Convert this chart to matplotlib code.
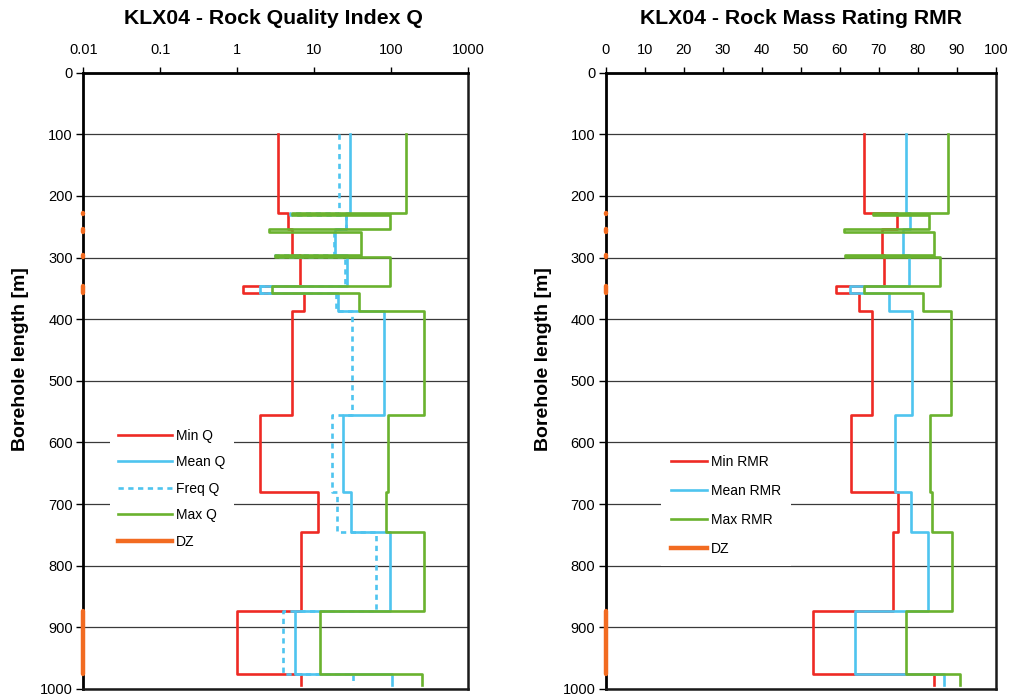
import numpy as np
import matplotlib
matplotlib.use("Agg")
import matplotlib.pyplot as plt
from matplotlib.ticker import FixedLocator, FixedFormatter, NullLocator

plt.rcParams['font.family'] = ['Liberation Sans', 'DejaVu Sans']

# ---- borehole intervals (m) ----
depth_bounds = [100, 228, 231, 254, 258, 296, 299, 346, 358, 386, 556, 680, 746, 874, 975, 994]

# ---- Q values per interval ----
q_min  = [3.4, 4.6, 4.6, 5.1, 5.1, 6.6, 6.6, 1.2, 7.3, 5.1, 2.0, 11.2, 6.8, 1.0, 6.8]
q_mean = [29.4, 25.8, 25.8, 18.7, 18.7, 27.1, 27.1, 2.0, 20.3, 82.0, 23.6, 30.2, 97.0, 5.6, 102.0]
q_freq = [21.3, 4.9, 25.8, 18.2, 18.2, 3.1, 25.2, 2.0, 19.3, 30.8, 16.9, 19.7, 63.8, 3.9, 32.4]
q_max  = [155.0, 5.1, 97.0, 2.6, 40.7, 3.1, 97.0, 2.8, 38.0, 271.0, 90.0, 87.0, 271.0, 12.0, 255.0]

# ---- RMR values per interval ----
rmr_min  = [66.1, 74.6, 74.6, 70.8, 70.8, 71.4, 71.4, 59.1, 64.9, 68.2, 62.9, 75.0, 73.6, 53.2, 84.0]
rmr_mean = [77.0, 78.0, 78.0, 76.3, 76.3, 77.8, 77.8, 62.5, 72.5, 78.5, 74.2, 78.3, 82.6, 63.9, 86.7]
rmr_max  = [87.8, 68.6, 82.9, 61.1, 84.0, 61.4, 85.7, 66.2, 81.3, 88.5, 83.2, 83.6, 88.7, 77.0, 90.8]

# ---- deformation zones (m) ----
dz_top = [227, 254, 296, 346, 874]
dz_bot = [230, 258, 299, 358, 975]

q_ticks = [0.01, 0.1, 1, 10, 100, 1000]
q_tick_labels = ['0.01', '0.1', '1', '10', '100', '1000']
rmr_ticks = list(range(0, 101, 10))
depth_ticks = list(range(0, 1001, 100))

RED = '#EE2A24'
BLUE = '#4EC4EF'
GREEN = '#6AB22E'
ORANGE = '#F26B21'
LW = 1.9


def step_profile(bounds, values):
    """Turn interval values into a vertical step line (x, depth)."""
    b = np.asarray(bounds, dtype=float)
    v = np.asarray(values, dtype=float)
    y = np.repeat(b, 2)[1:-1]
    x = np.repeat(v, 2)
    return x, y


def style_axes(ax):
    ax.set_ylim(1000, 0)
    ax.yaxis.set_major_locator(FixedLocator(depth_ticks))
    ax.yaxis.set_minor_locator(NullLocator())
    ax.xaxis.tick_top()
    ax.tick_params(axis='x', which='major', direction='out', length=4, width=1,
                   pad=7.5, labelsize=10.5, top=True, bottom=False)
    ax.tick_params(axis='x', which='minor', length=0)
    ax.tick_params(axis='y', direction='out', length=5, width=1, pad=2.5, labelsize=10.5)
    ax.yaxis.grid(True, color='#3a3a3a', lw=0.9)
    ax.set_axisbelow(True)
    for side in ('left', 'top'):
        ax.spines[side].set_linewidth(2.0)
        ax.spines[side].set_color('black')
    for side in ('right', 'bottom'):
        ax.spines[side].set_linewidth(1.8)
        ax.spines[side].set_color('#1a1a1a')


fig = plt.figure(figsize=(10.1, 6.97), dpi=100)
W, H = 1010, 697
top_px, bot_px = 72.7, 689.0
axQ = fig.add_axes([83.3 / W, 1 - bot_px / H, (468.0 - 83.3) / W, (bot_px - top_px) / H])
axR = fig.add_axes([605.7 / W, 1 - bot_px / H, (996.0 - 605.7) / W, (bot_px - top_px) / H])

# ---------------- Q panel ----------------
axQ.set_xscale('log')
axQ.set_xlim(0.01, 1000)
x, y = step_profile(depth_bounds, q_min)
axQ.plot(x, y, color=RED, lw=LW, label='Min Q', zorder=3)
x, y = step_profile(depth_bounds, q_mean)
axQ.plot(x, y, color=BLUE, lw=LW, label='Mean Q', zorder=3)
x, y = step_profile(depth_bounds, q_freq)
axQ.plot(x, y, color=BLUE, lw=LW, dashes=(2.0, 1.7), label='Freq Q', zorder=3)
x, y = step_profile(depth_bounds, q_max)
axQ.plot(x, y, color=GREEN, lw=LW, label='Max Q', zorder=3)
for t, b in zip(dz_top, dz_bot):
    axQ.plot([0.01, 0.01], [t, b], color=ORANGE, lw=3.2, solid_capstyle='round',
             clip_on=False, zorder=5)
axQ.plot([], [], color=ORANGE, lw=3.2, label='DZ')
axQ.xaxis.set_major_locator(FixedLocator(q_ticks))
axQ.xaxis.set_major_formatter(FixedFormatter(q_tick_labels))
axQ.xaxis.set_minor_locator(NullLocator())
style_axes(axQ)

legQ = axQ.legend(loc='center left', bbox_to_anchor=(0.0694, 0.325), fontsize=10,
                  frameon=True, fancybox=False, edgecolor='none', facecolor='white',
                  framealpha=1.0, handlelength=3.9, handletextpad=0.25,
                  labelspacing=0.9, borderpad=0.6, borderaxespad=0.0)
legQ.set_zorder(4)

# ---------------- RMR panel ----------------
axR.set_xlim(0, 100)
x, y = step_profile(depth_bounds, rmr_min)
axR.plot(x, y, color=RED, lw=LW, label='Min RMR', zorder=3)
x, y = step_profile(depth_bounds, rmr_mean)
axR.plot(x, y, color=BLUE, lw=LW, label='Mean RMR', zorder=3)
x, y = step_profile(depth_bounds, rmr_max)
axR.plot(x, y, color=GREEN, lw=LW, label='Max RMR', zorder=3)
for t, b in zip(dz_top, dz_bot):
    axR.plot([0, 0], [t, b], color=ORANGE, lw=3.2, solid_capstyle='round',
             clip_on=False, zorder=5)
axR.plot([], [], color=ORANGE, lw=3.2, label='DZ')
axR.xaxis.set_major_locator(FixedLocator(rmr_ticks))
axR.xaxis.set_minor_locator(NullLocator())
style_axes(axR)

legR = axR.legend(loc='center left', bbox_to_anchor=(0.1417, 0.2974), fontsize=10,
                  frameon=True, fancybox=False, edgecolor='none', facecolor='white',
                  framealpha=1.0, handlelength=2.6, handletextpad=0.3,
                  labelspacing=1.08, borderpad=0.7, borderaxespad=0.0)
legR.set_zorder(4)

# ---------------- titles and axis labels ----------------
fig.text(273.5 / W, 1 - 18 / H, 'KLX04 - Rock Quality Index Q', ha='center', va='center',
         fontsize=15.3, fontweight='bold')
fig.text(800.8 / W, 1 - 18 / H, 'KLX04 - Rock Mass Rating RMR', ha='center', va='center',
         fontsize=15.3, fontweight='bold')
fig.text(21 / W, 1 - 359 / H, 'Borehole length [m]', rotation=90, ha='center', va='center',
         fontsize=14, fontweight='bold')
fig.text(544 / W, 1 - 359 / H, 'Borehole length [m]', rotation=90, ha='center', va='center',
         fontsize=14, fontweight='bold')

fig.savefig('out.png', dpi=100, facecolor='white')
